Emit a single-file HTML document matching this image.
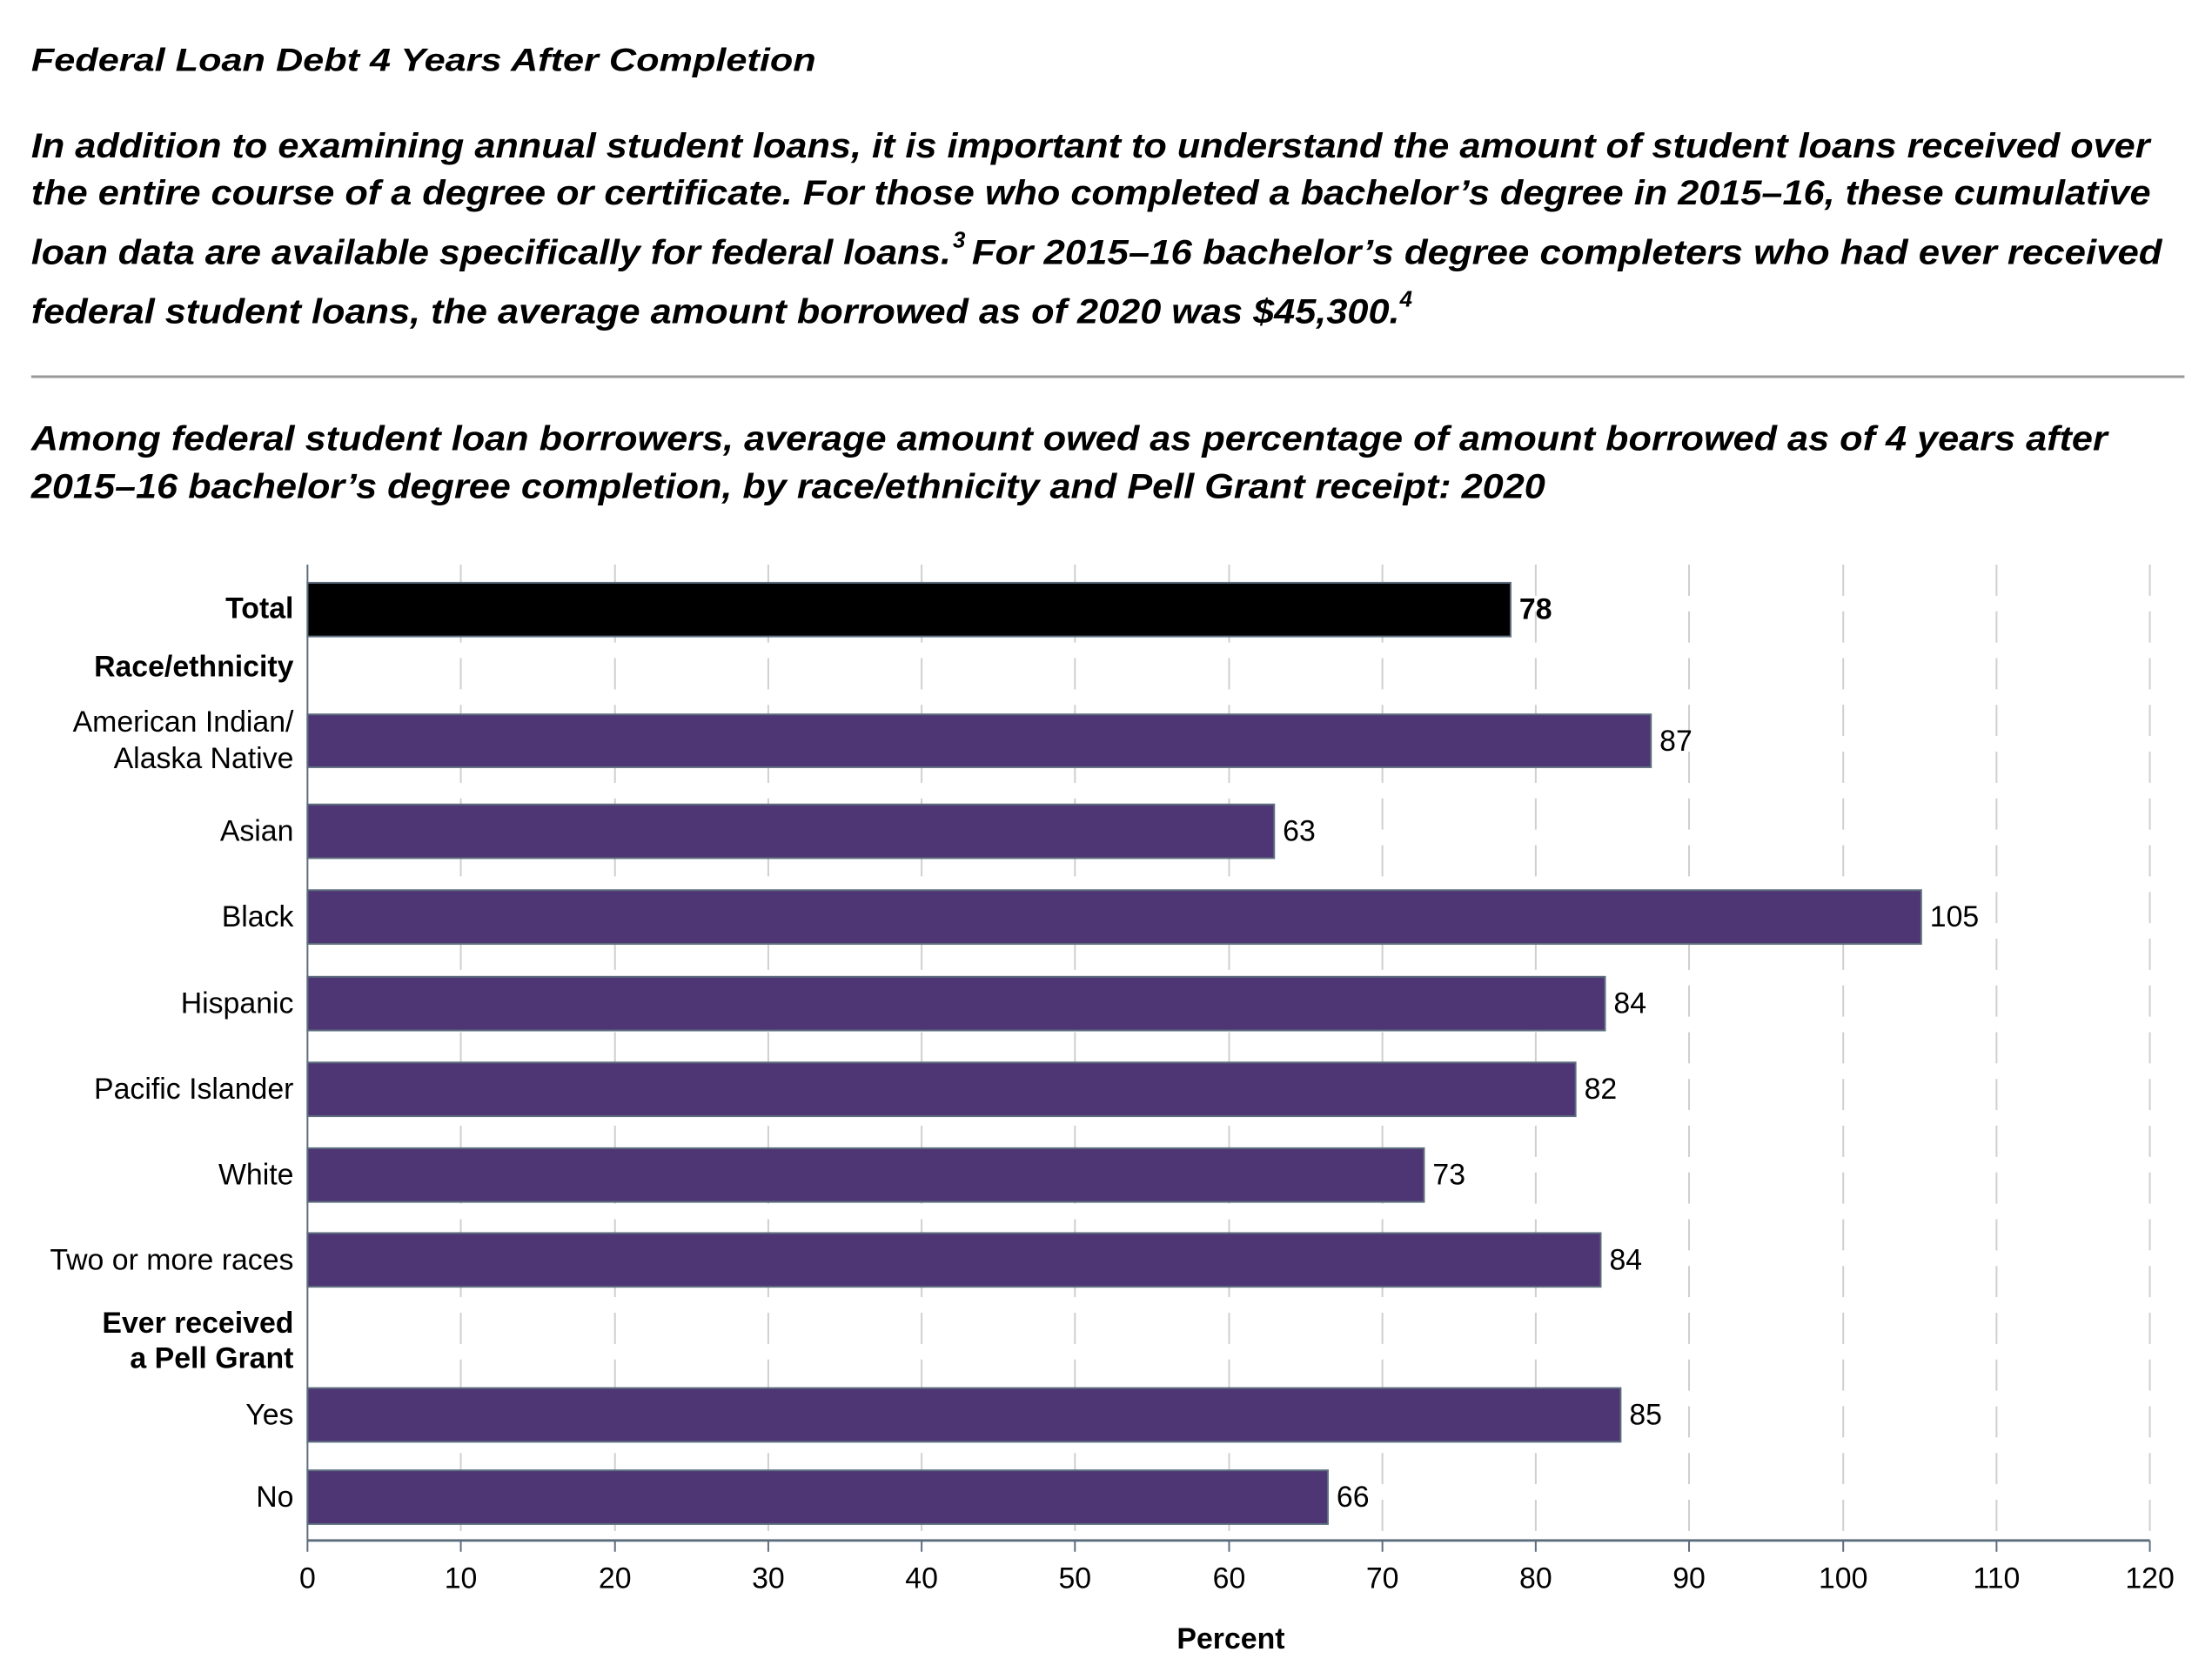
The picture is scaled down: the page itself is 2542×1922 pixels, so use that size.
<!DOCTYPE html>
<html><head><meta charset="utf-8"><style>html,body{margin:0;padding:0;background:#fff}svg{display:block}</style></head>
<body>
<svg width="2542" height="1922" xmlns="http://www.w3.org/2000/svg" font-family="Liberation Sans, Arial, sans-serif">
<g transform="scale(0.9954)">
<g font-weight="bold" font-style="italic" fill="#000">
<text x="36" y="82" font-size="37" textLength="906" lengthAdjust="spacingAndGlyphs">Federal Loan Debt 4 Years After Completion</text>
<text x="36" y="182" font-size="40" textLength="2446" lengthAdjust="spacingAndGlyphs">In addition to examining annual student loans, it is important to understand the amount of student loans received over</text>
<text x="36" y="236" font-size="40" textLength="2447" lengthAdjust="spacingAndGlyphs">the entire course of a degree or certificate. For those who completed a bachelor’s degree in 2015–16, these cumulative</text>
<text x="36" y="305" font-size="40" textLength="1062" lengthAdjust="spacingAndGlyphs">loan data are available specifically for federal loans.</text>
<text x="1100" y="286" font-size="26">3</text>
<text x="1122" y="305" font-size="40" textLength="1374" lengthAdjust="spacingAndGlyphs">For 2015–16 bachelor’s degree completers who had ever received</text>
<text x="36" y="373" font-size="40" textLength="1580" lengthAdjust="spacingAndGlyphs">federal student loans, the average amount borrowed as of 2020 was $45,300.</text>
<text x="1616" y="354" font-size="26">4</text>
<text x="36" y="520" font-size="40" textLength="2397" lengthAdjust="spacingAndGlyphs">Among federal student loan borrowers, average amount owed as percentage of amount borrowed as of 4 years after</text>
<text x="36" y="575" font-size="40" textLength="1748" lengthAdjust="spacingAndGlyphs">2015–16 bachelor’s degree completion, by race/ethnicity and Pell Grant receipt: 2020</text>
</g>
<line x1="36" y1="435" x2="2522" y2="435" stroke="#999" stroke-width="3"/>
<g stroke="#cfcfcf" stroke-width="2" stroke-dasharray="36,18">
<line x1="532" y1="652" x2="532" y2="1779"/><line x1="710" y1="652" x2="710" y2="1779"/><line x1="887" y1="652" x2="887" y2="1779"/><line x1="1064" y1="652" x2="1064" y2="1779"/><line x1="1241" y1="652" x2="1241" y2="1779"/><line x1="1419" y1="652" x2="1419" y2="1779"/><line x1="1596" y1="652" x2="1596" y2="1779"/><line x1="1773" y1="652" x2="1773" y2="1779"/><line x1="1950" y1="652" x2="1950" y2="1779"/><line x1="2128" y1="652" x2="2128" y2="1779"/><line x1="2305" y1="652" x2="2305" y2="1779"/><line x1="2482" y1="652" x2="2482" y2="1779"/>
</g>
<g stroke="#5d6d7e" stroke-width="2">
<rect x="355" y="673" width="1389" height="62" fill="#000"/>
<rect x="355" y="825" width="1551" height="61" fill="#4e3573"/>
<rect x="355" y="929" width="1116" height="62" fill="#4e3573"/>
<rect x="355" y="1028" width="1863" height="62" fill="#4e3573"/>
<rect x="355" y="1128" width="1498" height="62" fill="#4e3573"/>
<rect x="355" y="1227" width="1464" height="62" fill="#4e3573"/>
<rect x="355" y="1326" width="1289" height="62" fill="#4e3573"/>
<rect x="355" y="1424" width="1493" height="62" fill="#4e3573"/>
<rect x="355" y="1603" width="1516" height="62" fill="#4e3573"/>
<rect x="355" y="1698" width="1178" height="62" fill="#4e3573"/>
</g>
<g stroke="#5d6d7e" stroke-width="2">
<line x1="355" y1="652" x2="355" y2="1792"/>
<line x1="355" y1="1779" x2="2482" y2="1779" stroke-width="3"/>
<line x1="532" y1="1779" x2="532" y2="1792"/><line x1="710" y1="1779" x2="710" y2="1792"/><line x1="887" y1="1779" x2="887" y2="1792"/><line x1="1064" y1="1779" x2="1064" y2="1792"/><line x1="1241" y1="1779" x2="1241" y2="1792"/><line x1="1419" y1="1779" x2="1419" y2="1792"/><line x1="1596" y1="1779" x2="1596" y2="1792"/><line x1="1773" y1="1779" x2="1773" y2="1792"/><line x1="1950" y1="1779" x2="1950" y2="1792"/><line x1="2128" y1="1779" x2="2128" y2="1792"/><line x1="2305" y1="1779" x2="2305" y2="1792"/><line x1="2482" y1="1779" x2="2482" y2="1792"/>
</g>
<g font-size="34" fill="#000" text-anchor="end">
<text x="339" y="714" font-weight="bold">Total</text>
<text x="339" y="781" font-weight="bold">Race/ethnicity</text>
<text x="339" y="845">American Indian/</text>
<text x="339" y="887">Alaska Native</text>
<text x="339" y="971">Asian</text>
<text x="339" y="1070">Black</text>
<text x="339" y="1170">Hispanic</text>
<text x="339" y="1269">Pacific Islander</text>
<text x="339" y="1368">White</text>
<text x="339" y="1466">Two or more races</text>
<text x="339" y="1539" font-weight="bold">Ever received</text>
<text x="339" y="1580" font-weight="bold">a Pell Grant</text>
<text x="339" y="1645">Yes</text>
<text x="339" y="1740">No</text>
</g>
<g font-size="34" fill="#000">
<text x="1754" y="715" font-weight="bold">78</text>
<text x="1916" y="867">87</text>
<text x="1481" y="971">63</text>
<text x="2228" y="1070">105</text>
<text x="1863" y="1170">84</text>
<text x="1829" y="1269">82</text>
<text x="1654" y="1368">73</text>
<text x="1858" y="1466">84</text>
<text x="1881" y="1645">85</text>
<text x="1543" y="1740">66</text>
</g>
<g font-size="34" fill="#000" text-anchor="middle">
<text x="355" y="1834">0</text><text x="532" y="1834">10</text><text x="710" y="1834">20</text><text x="887" y="1834">30</text><text x="1064" y="1834">40</text><text x="1241" y="1834">50</text><text x="1419" y="1834">60</text><text x="1596" y="1834">70</text><text x="1773" y="1834">80</text><text x="1950" y="1834">90</text><text x="2128" y="1834">100</text><text x="2305" y="1834">110</text><text x="2482" y="1834">120</text>
<text x="1421" y="1904" font-weight="bold">Percent</text>
</g>
</g>
</svg>
</body></html>
